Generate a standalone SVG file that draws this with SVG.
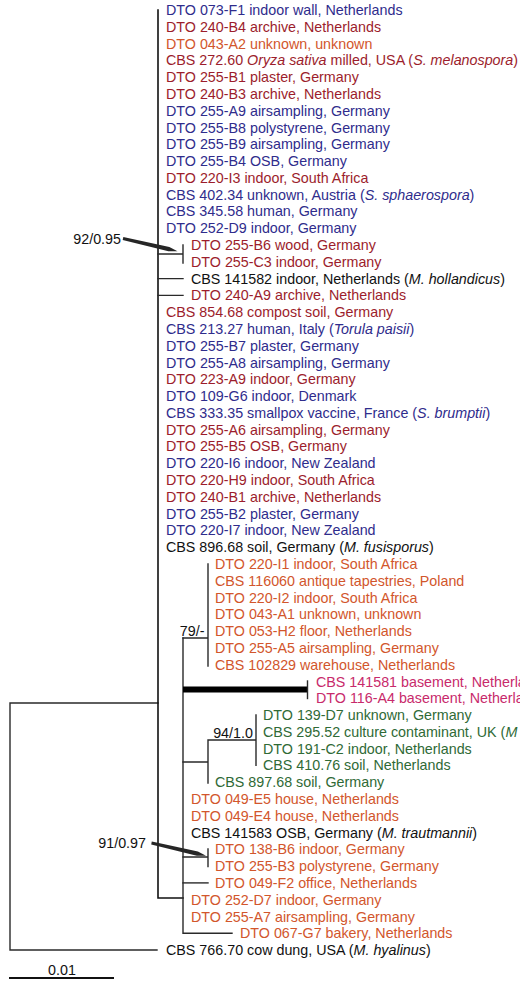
<svg xmlns="http://www.w3.org/2000/svg" width="520" height="981" viewBox="0 0 520 981">
  <style>
    text { font-family: "Liberation Sans", Arial, sans-serif; font-size: 14.3px; }
    .b { fill: #2f2c8c; }
    .r { fill: #9c1d2c; }
    .o { fill: #d2562c; }
    .m { fill: #c82a6b; }
    .g { fill: #2f6a36; }
    .k { fill: #111111; }
    .i { font-style: italic; }
    .br { stroke: #2a2a2a; stroke-width: 1.4; fill: none; stroke-linecap: square; }
    .thick { stroke: #000; stroke-width: 6; }
    .sup { fill: #111; }
  </style>
  <defs>
    <polygon id="pointer" points="123.3,237.1 169.4,247 177.5,251.2 168.4,251.3 122.7,239.9" fill="#262626"/>
  </defs>

  <!-- branches -->
  <g id="connectors">
    <!-- root -->
    <path class="br" d="M10,703 V950 H157 M10,703 H158"/>
    <!-- main clade backbone -->
    <path class="br" d="M158,10 V898 H183" style="stroke:#111;stroke-width:1.6"/>
    <!-- 255-B6 / 255-C3 pair -->
    <path class="br" d="M158,254 H183 M183,245 V263"/>
    <path class="br" d="M158,278.6 H183 M158,295.4 H183"/>
    <!-- lower subclade -->
    <path class="br" d="M183,638 V933.3 H232"/>
    <!-- 79/- clade -->
    <path class="br" d="M183,638 H208 M208,564 V666"/>
    <!-- basement pair, long branch -->
    <line class="thick" x1="183" y1="689.5" x2="307" y2="689.5"/>
    <path class="br" d="M307.5,681 V698.5"/>
    <!-- green clade -->
    <path class="br" d="M183,762 H208 M208,740 V783 M208,740 H256 M256,715 V765.4"/>
    <!-- 138-B6 / 255-B3 pair -->
    <path class="br" d="M183,857 H208 M208,849 V866.5"/>
    <path class="br" d="M183,882.9 H208"/>
    <!-- scale bar -->
    <line x1="9" y1="978" x2="114" y2="978" stroke="#111" stroke-width="2"/>
  </g>

  <!-- support values -->
  <g id="support">
    <text class="sup" x="121" y="244" text-anchor="end">92/0.95</text>
    <use href="#pointer"/>
    <text class="sup" x="146" y="848" text-anchor="end">91/0.97</text>
    <use href="#pointer" transform="translate(28.5,604.5)"/>
    <text class="sup" x="204.5" y="635.5" text-anchor="end">79/-</text>
    <text class="sup" x="233" y="737.5" text-anchor="middle">94/1.0</text>
    <text class="sup" x="62" y="975" text-anchor="middle">0.01</text>
  </g>

  <!-- leaves -->
  <g id="leaf-01"><text class="b" x="166" y="15">DTO 073-F1 indoor wall, Netherlands</text></g>
  <g id="leaf-02"><text class="r" x="166" y="31.8">DTO 240-B4 archive, Netherlands</text></g>
  <g id="leaf-03"><text class="o" x="166" y="48.6">DTO 043-A2 unknown, unknown</text></g>
  <g id="leaf-04"><text class="r" x="166" y="65.4">CBS 272.60 <tspan class="i">Oryza sativa</tspan> milled, USA (<tspan class="i">S. melanospora</tspan>)</text></g>
  <g id="leaf-05"><text class="r" x="166" y="82.1">DTO 255-B1 plaster, Germany</text></g>
  <g id="leaf-06"><text class="r" x="166" y="98.9">DTO 240-B3 archive, Netherlands</text></g>
  <g id="leaf-07"><text class="b" x="166" y="115.7">DTO 255-A9 airsampling, Germany</text></g>
  <g id="leaf-08"><text class="b" x="166" y="132.5">DTO 255-B8 polystyrene, Germany</text></g>
  <g id="leaf-09"><text class="b" x="166" y="149.3">DTO 255-B9 airsampling, Germany</text></g>
  <g id="leaf-10"><text class="b" x="166" y="166.1">DTO 255-B4 OSB, Germany</text></g>
  <g id="leaf-11"><text class="r" x="166" y="182.9">DTO 220-I3 indoor, South Africa</text></g>
  <g id="leaf-12"><text class="b" x="166" y="199.6">CBS 402.34 unknown, Austria (<tspan class="i">S. sphaerospora</tspan>)</text></g>
  <g id="leaf-13"><text class="b" x="166" y="216.4">CBS 345.58 human, Germany</text></g>
  <g id="leaf-14"><text class="b" x="166" y="233.2">DTO 252-D9 indoor, Germany</text></g>
  <g id="leaf-15"><text class="r" x="191" y="250">DTO 255-B6 wood, Germany</text></g>
  <g id="leaf-16"><text class="r" x="191" y="266.8">DTO 255-C3 indoor, Germany</text></g>
  <g id="leaf-17"><text class="k" x="191" y="283.6">CBS 141582 indoor, Netherlands (<tspan class="i">M. hollandicus</tspan>)</text></g>
  <g id="leaf-18"><text class="r" x="191" y="300.4">DTO 240-A9 archive, Netherlands</text></g>
  <g id="leaf-19"><text class="r" x="166" y="317.1">CBS 854.68 compost soil, Germany</text></g>
  <g id="leaf-20"><text class="b" x="166" y="333.9">CBS 213.27 human, Italy (<tspan class="i">Torula paisii</tspan>)</text></g>
  <g id="leaf-21"><text class="b" x="166" y="350.7">DTO 255-B7 plaster, Germany</text></g>
  <g id="leaf-22"><text class="b" x="166" y="367.5">DTO 255-A8 airsampling, Germany</text></g>
  <g id="leaf-23"><text class="r" x="166" y="384.3">DTO 223-A9 indoor, Germany</text></g>
  <g id="leaf-24"><text class="b" x="166" y="401.1">DTO 109-G6 indoor, Denmark</text></g>
  <g id="leaf-25"><text class="b" x="166" y="417.9">CBS 333.35 smallpox vaccine, France (<tspan class="i">S. brumptii</tspan>)</text></g>
  <g id="leaf-26"><text class="r" x="166" y="434.7">DTO 255-A6 airsampling, Germany</text></g>
  <g id="leaf-27"><text class="r" x="166" y="451.4">DTO 255-B5 OSB, Germany</text></g>
  <g id="leaf-28"><text class="b" x="166" y="468.2">DTO 220-I6 indoor, New Zealand</text></g>
  <g id="leaf-29"><text class="r" x="166" y="485">DTO 220-H9 indoor, South Africa</text></g>
  <g id="leaf-30"><text class="r" x="166" y="501.8">DTO 240-B1 archive, Netherlands</text></g>
  <g id="leaf-31"><text class="b" x="166" y="518.6">DTO 255-B2 plaster, Germany</text></g>
  <g id="leaf-32"><text class="b" x="166" y="535.4">DTO 220-I7 indoor, New Zealand</text></g>
  <g id="leaf-33"><text class="k" x="166" y="552.2">CBS 896.68 soil, Germany (<tspan class="i">M. fusisporus</tspan>)</text></g>
  <g id="leaf-34"><text class="o" x="215" y="569">DTO 220-I1 indoor, South Africa</text></g>
  <g id="leaf-35"><text class="o" x="215" y="585.7">CBS 116060 antique tapestries, Poland</text></g>
  <g id="leaf-36"><text class="o" x="215" y="602.5">DTO 220-I2 indoor, South Africa</text></g>
  <g id="leaf-37"><text class="o" x="215" y="619.3">DTO 043-A1 unknown, unknown</text></g>
  <g id="leaf-38"><text class="o" x="215" y="636.1">DTO 053-H2 floor, Netherlands</text></g>
  <g id="leaf-39"><text class="o" x="215" y="652.9">DTO 255-A5 airsampling, Germany</text></g>
  <g id="leaf-40"><text class="o" x="215" y="669.7">CBS 102829 warehouse, Netherlands</text></g>
  <g id="leaf-41"><text class="m" x="316" y="686.5">CBS 141581 basement, Netherlands</text></g>
  <g id="leaf-42"><text class="m" x="316" y="703.2">DTO 116-A4 basement, Netherlands</text></g>
  <g id="leaf-43"><text class="g" x="263" y="720">DTO 139-D7 unknown, Germany</text></g>
  <g id="leaf-44"><text class="g" x="263" y="736.8">CBS 295.52 culture contaminant, UK (<tspan class="i">M</tspan></text></g>
  <g id="leaf-45"><text class="g" x="263" y="753.6">DTO 191-C2 indoor, Netherlands</text></g>
  <g id="leaf-46"><text class="g" x="263" y="770.4">CBS 410.76 soil, Netherlands</text></g>
  <g id="leaf-47"><text class="g" x="215" y="787.2">CBS 897.68 soil, Germany</text></g>
  <g id="leaf-48"><text class="o" x="191" y="804">DTO 049-E5 house, Netherlands</text></g>
  <g id="leaf-49"><text class="o" x="191" y="820.7">DTO 049-E4 house, Netherlands</text></g>
  <g id="leaf-50"><text class="k" x="191" y="837.5">CBS 141583 OSB, Germany (<tspan class="i">M. trautmannii</tspan>)</text></g>
  <g id="leaf-51"><text class="o" x="215" y="854.3">DTO 138-B6 indoor, Germany</text></g>
  <g id="leaf-52"><text class="o" x="215" y="871.1">DTO 255-B3 polystyrene, Germany</text></g>
  <g id="leaf-53"><text class="o" x="215" y="887.9">DTO 049-F2 office, Netherlands</text></g>
  <g id="leaf-54"><text class="o" x="191" y="904.7">DTO 252-D7 indoor, Germany</text></g>
  <g id="leaf-55"><text class="o" x="191" y="921.5">DTO 255-A7 airsampling, Germany</text></g>
  <g id="leaf-56"><text class="o" x="240" y="938.3">DTO 067-G7 bakery, Netherlands</text></g>
  <g id="leaf-57"><text class="k" x="166" y="955">CBS 766.70 cow dung, USA (<tspan class="i">M. hyalinus</tspan>)</text></g>
</svg>
